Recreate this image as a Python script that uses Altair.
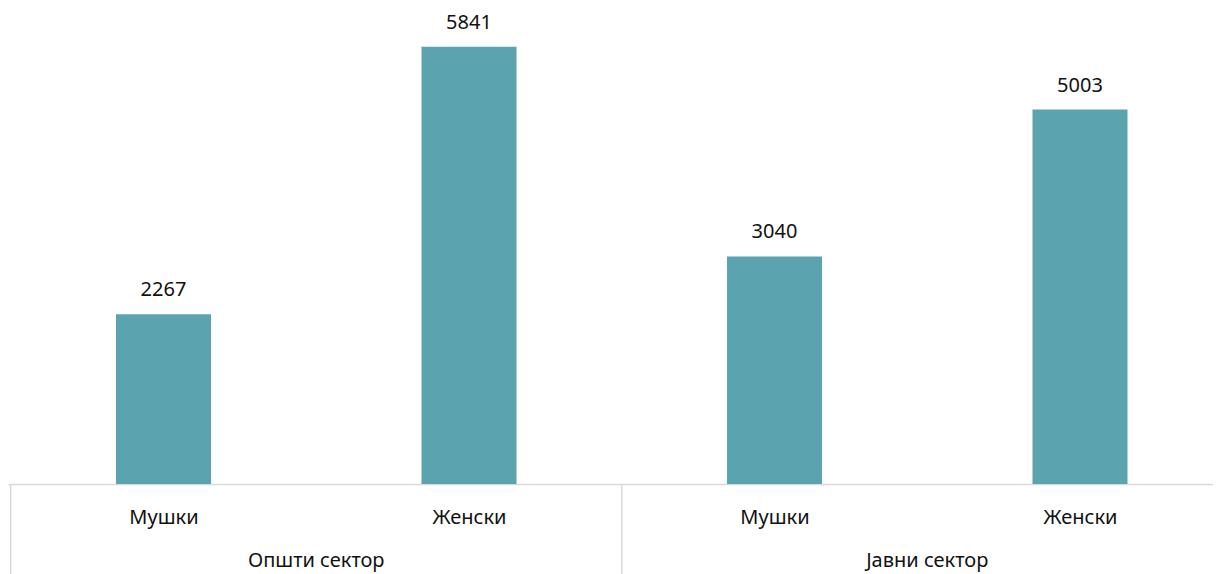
import altair as alt
import pandas as pd

groups = ["Општи сектор", "Општи сектор", "Јавни сектор", "Јавни сектор"]
genders = ["Мушки", "Женски", "Мушки", "Женски"]
values = [2267, 5841, 3040, 5003]
group_order = ["Општи сектор", "Јавни сектор"]

df = pd.DataFrame({"group": groups, "gender": genders, "value": values})
df["idx"] = range(len(df))

gdf = df.groupby("group", sort=False)["idx"].agg(["min", "max"]).reset_index()
gdf["start"] = gdf["min"] - 0.5
gdf["center"] = (gdf["min"] + gdf["max"]) / 2

FONT = "Noto Sans"
GRID = "#d9d9d9"
BAR = "#5BA3AF"
TXT = "#111111"
W, H, BOTTOM = 1205, 476, 90
xdom = [-0.509, 3.4354]

xscale = alt.Scale(domain=xdom, nice=False, zero=False, padding=0)
yenc = alt.Y("value:Q", scale=alt.Scale(domain=[0, 6360], nice=False, zero=True, padding=0), axis=None)

label_expr = "[" + ",".join("'" + g + "'" for g in genders) + "][datum.value]"

bars = alt.Chart(df).mark_bar(color=BAR, width=95).encode(
    x=alt.X("idx:Q", scale=xscale,
            axis=alt.Axis(title=None, values=list(df["idx"]), labelExpr=label_expr,
                          ticks=False, grid=False, domain=True, domainColor=GRID,
                          domainWidth=1.5, labelAngle=0, labelFontSize=20, labelFont=FONT,
                          labelColor=TXT, labelBaseline="middle", labelPadding=33,
                          labelAlign="center", labelFlush=False, labelOverlap=False)),
    y=yenc,
)
labels = alt.Chart(df).mark_text(
    font=FONT, fontSize=20, color=TXT, baseline="alphabetic", dy=-18
).encode(x=alt.X("idx:Q", scale=xscale), y=yenc, text=alt.Text("value:Q", format="d"))

seps = alt.Chart(gdf).mark_rule(color=GRID, strokeWidth=1.5).encode(
    x=alt.X("start:Q", scale=xscale), y=alt.value(H), y2=alt.value(H + BOTTOM)
)
glabels = alt.Chart(gdf).mark_text(
    font=FONT, fontSize=20, color=TXT, baseline="middle", align="center"
).encode(x=alt.X("center:Q", scale=xscale), y=alt.value(H + 77), text="group:N")

chart = alt.layer(bars, labels, seps, glabels).properties(
    width=W, height=H,
    background="white",
    padding={"left": 0, "top": 0, "right": 0, "bottom": BOTTOM},
    autosize=alt.AutoSizeParams(type="none"),
).configure_view(strokeWidth=0, stroke="transparent")

chart.save("out.html", embed_options={"renderer": "svg", "actions": False})
